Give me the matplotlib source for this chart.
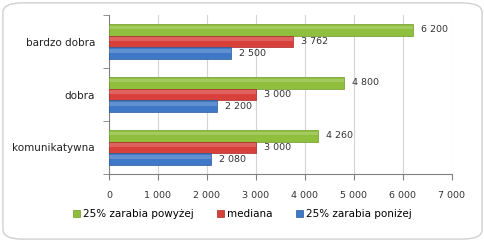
import matplotlib
matplotlib.use("Agg")
import matplotlib.pyplot as plt
import numpy as np
from matplotlib.patches import FancyBboxPatch

categories = ["bardzo dobra", "dobra", "komunikatywna"]
upper = [6200, 4800, 4260]    # 25% zarabia powyżej
median = [3762, 3000, 3000]   # mediana
lower = [2500, 2200, 2080]    # 25% zarabia poniżej
series_names = ["25% zarabia powyżej", "mediana", "25% zarabia poniżej"]
xticks = [0, 1000, 2000, 3000, 4000, 5000, 6000, 7000]

colors = ["#8fbf3c", "#d8403c", "#3f78c6"]
edge = ["#6e9a26", "#a92a27", "#2b5a9a"]


def fmt(v):
    return f"{v:,}".replace(",", " ")


plt.rcParams["font.family"] = ["DejaVu Sans"]
fig = plt.figure(figsize=(4.85, 2.42), dpi=100)

# rounded frame around the whole chart, kept behind the axes
frame = FancyBboxPatch((0.006, 0.012), 0.988, 0.976,
                       boxstyle="round,pad=0,rounding_size=0.04",
                       transform=fig.transFigure, fc="white",
                       ec="#d0d0d0", lw=1.0, zorder=-10)
fig.patches.append(frame)

ax = fig.add_axes([0.2247, 0.281, 0.7072, 0.657])
ax.set_facecolor("none")

y = np.arange(len(categories))[::-1].astype(float)  # top: bardzo dobra
h = 0.22
offsets = [h, 0, -h]
for vals, off, c, e, name in zip([upper, median, lower], offsets, colors, edge, series_names):
    ax.barh(y + off, vals, height=h, color=c, edgecolor=e, lw=0.5, label=name, zorder=3)
    # light highlight on the upper part to mimic the glossy look
    ax.barh(y + off + h * 0.2, vals, height=h * 0.3, color="white", alpha=0.18, lw=0, zorder=4)
    for yy, v in zip(y + off, vals):
        ax.text(v + 160, yy, fmt(v), va="center", ha="left", fontsize=6.8, color="#333333")

ax.set_xlim(0, 7000)
ax.set_ylim(-0.5, len(categories) - 0.5)
ax.set_xticks(xticks)
ax.set_xticklabels([fmt(t) for t in xticks], fontsize=6.8, color="#333333")
ax.set_yticks(y)
ax.set_yticklabels(categories, fontsize=7.5, color="#222222")
ax.set_yticks(np.arange(-0.5, len(categories), 1.0), minor=True)
ax.tick_params(axis="y", which="major", length=0, pad=10)
ax.tick_params(axis="y", which="minor", length=4, color="#808080", direction="out")
ax.tick_params(axis="x", length=4, color="#808080", direction="out", pad=8)

ax.grid(axis="x", color="#d4d4d4", lw=0.8, zorder=0)
for s in ["top", "right"]:
    ax.spines[s].set_visible(False)
for s in ["left", "bottom"]:
    ax.spines[s].set_color("#808080")
    ax.spines[s].set_linewidth(0.8)

handles, labels = ax.get_legend_handles_labels()
fig.legend(handles[:3], labels[:3], loc="center", bbox_to_anchor=(0.5, 0.115), ncol=3,
           frameon=False, fontsize=7.5, handlelength=0.7, handleheight=0.7,
           handletextpad=0.3, columnspacing=2.2)

fig.savefig("out.png", dpi=100)
